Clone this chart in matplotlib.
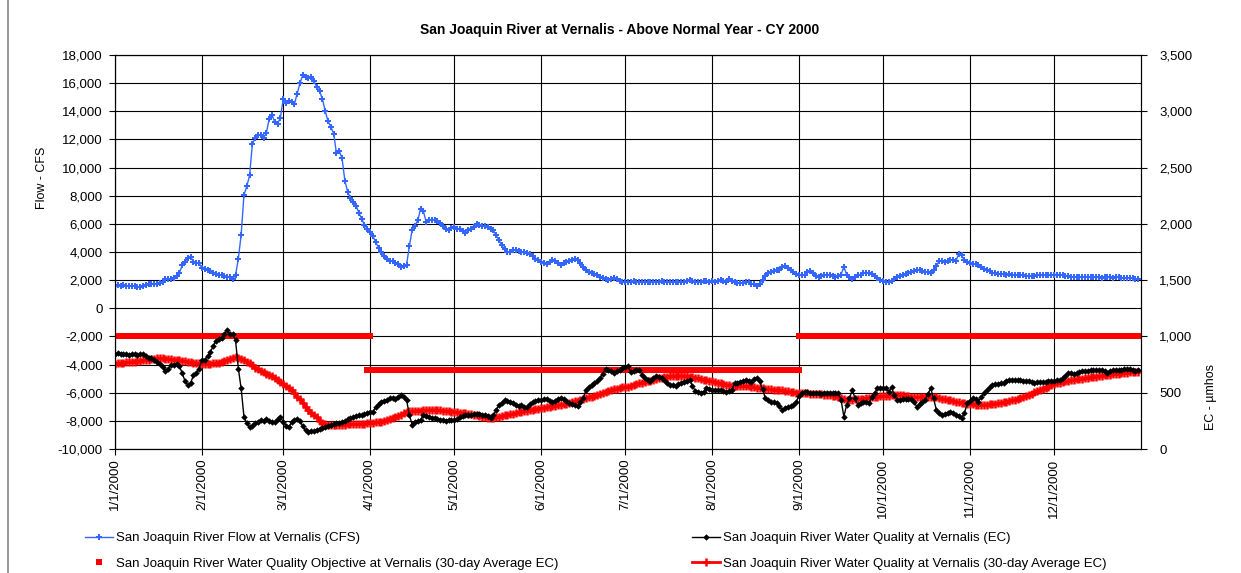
import numpy as np
import pandas as pd
import matplotlib
matplotlib.use("Agg")
import matplotlib.pyplot as plt
import matplotlib.dates as mdates
from matplotlib.ticker import FuncFormatter, MultipleLocator
from matplotlib.lines import Line2D

plt.rcParams['font.family'] = ['Liberation Sans', 'DejaVu Sans']

title = "San Joaquin River at Vernalis - Above Normal Year - CY 2000"
left_label = "Flow - CFS"
right_label = "EC - \u00b5mhos"
labels = ["San Joaquin River Flow at Vernalis (CFS)",
          "San Joaquin River Water Quality at Vernalis (EC)",
          "San Joaquin River Water Quality Objective at Vernalis (30-day Average EC)",
          "San Joaquin River Water Quality at Vernalis (30-day Average EC)"]

# ---------------- daily flow (CFS) ----------------
flow_jan = [1600,1620,1610,1630,1600,1600,1580,1550,1500,1520,1580,1650,1700,1720,1740,1760,1800,1900,2050,2100,2100,2120,2280,2540,3060,3300,3600,3650,3300,3200,3200]
flow_feb = [2870,2780,2700,2620,2540,2470,2400,2350,2300,2250,2190,2100,2350,3530,5220,8050,8660,9440,11650,12120,12350,12300,12120,12470,13460,13760,13220,13130,13530]
flow_mar = [14870,14590,14700,14630,14520,15250,16000,16590,16470,16400,16470,16120,15720,15410,14870,14000,13290,12890,12420,11010,11180,10660,9060,8280,7840,7530,7290,6780,6350,5930,5650]
flow_apr = [5410,5130,4700,4310,4000,3720,3530,3340,3340,3220,3130,2940,3010,3100,4400,5580,5880,6240,7060,6900,6160,6240,6280,6280,6190,6050,5880,5650,5530,5720]
flow_may = [5760,5600,5650,5480,5340,5530,5650,5810,6000,5950,5880,5880,5760,5650,5530,5180,4820,4470,4190,3980,3980,4160,4120,4050,3980,4020,3930,3840,3690,3530,3410]
flow_jun = [3290,3220,3180,3290,3410,3340,3250,3110,3220,3290,3360,3460,3530,3410,3220,2940,2710,2590,2540,2470,2400,2240,2120,2050,2000,2070,2120,2050,1950,1880]
flow_jul = [1880,1850,1900,1920,1870,1850,1870,1900,1880,1860,1850,1870,1900,1910,1880,1860,1850,1880,1900,1870,1850,1880,1920,2000,1950,1880,1860,1900,1950,1920,1900]
flow_aug = [1920,1900,1950,1980,1960,1900,2050,1950,1850,1800,1780,1800,1850,1900,1750,1700,1600,1750,2000,2300,2540,2600,2640,2700,2750,2900,3000,2850,2710,2550,2470]
flow_sep = [2350,2400,2350,2590,2640,2500,2300,2240,2300,2350,2350,2350,2300,2240,2300,2400,2940,2400,2200,2050,2200,2350,2400,2500,2540,2500,2450,2300,2150,2000]
flow_oct = [1950,1880,1900,1950,2100,2240,2300,2400,2470,2500,2600,2650,2710,2700,2650,2600,2550,2520,2700,2990,3360,3350,3290,3350,3460,3400,3360,3880,3760,3410,3300]
flow_nov = [3220,3180,3130,3050,2940,2820,2710,2620,2540,2500,2460,2440,2420,2400,2410,2400,2380,2360,2340,2350,2320,2300,2300,2320,2350,2340,2330,2350,2370,2380]
flow_dec = [2400,2400,2400,2350,2300,2280,2250,2240,2230,2220,2220,2210,2200,2200,2190,2190,2200,2180,2190,2200,2190,2180,2190,2190,2170,2160,2150,2140,2120,2100,2070]

# ---------------- daily EC (umhos) ----------------
ec_jan = [845,850,847,840,842,838,840,843,838,845,847,823,812,812,794,774,759,730,694,715,744,744,759,735,671,603,568,588,656,671,715]
ec_feb = [788,794,823,862,912,959,979,988,1024,1053,1024,1024,965,715,538,288,230,194,206,230,244,259,253,265,253,244,238,265,280]
ec_mar = [244,206,194,238,259,265,253,200,165,147,156,162,171,180,190,195,200,210,220,228,232,236,250,265,275,285,295,303,305,312,318]
ec_apr = [325,332,371,400,421,430,436,450,456,441,460,477,459,436,303,215,244,250,259,303,290,283,278,272,268,262,258,253,255,257]
ec_may = [259,270,288,292,298,303,305,310,312,308,305,303,290,274,300,347,390,412,436,430,421,405,391,380,390,371,371,400,421,430,433]
ec_jun = [436,440,444,430,415,430,445,450,440,425,412,400,390,383,420,450,524,550,570,582,605,632,670,715,700,690,677,690,706,720]
ec_jul = [725,738,685,695,705,700,660,627,615,606,630,647,640,635,610,582,570,565,562,575,590,597,605,612,560,515,505,500,510,538,530]
ec_aug = [524,524,520,524,515,509,515,524,582,590,591,600,612,605,597,620,635,600,530,450,435,421,415,406,380,347,360,371,380,391,421]
ec_sep = [470,494,505,509,500,495,494,494,490,495,494,494,498,500,500,436,288,391,450,524,450,391,410,421,415,406,465,500,538,540]
ec_oct = [540,538,509,547,480,436,438,440,440,442,441,420,377,400,420,436,490,538,450,347,320,303,310,320,332,320,303,295,274,318,406]
ec_nov = [430,450,440,421,460,494,525,553,565,577,580,585,588,600,612,612,612,612,610,608,605,603,595,588,592,595,597,597,600,603]
ec_dec = [606,610,615,627,650,671,671,668,671,680,694,690,695,698,700,702,704,706,690,677,690,700,700,700,702,708,712,715,700,694,706]

# ---------------- daily 30-day average EC ----------------
avg_jan = [759,761,764,767,770,772,774,777,780,783,788,791,795,799,803,805,806,805,803,800,796,794,792,790,786,780,775,770,766,763,760]
avg_feb = [759,758,757,758,760,763,768,774,782,790,798,805,815,810,800,790,774,760,742,721,708,695,680,670,660,645,630,615,597]
avg_mar = [580,560,540,520,495,465,440,410,377,350,318,300,280,250,230,222,215,213,212,213,214,215,216,218,219,220,221,221,223,226,228]
avg_apr = [230,233,237,240,244,250,258,265,275,285,295,303,318,332,335,337,339,341,341,343,345,346,347,347,345,343,341,338,336,333]
avg_may = [330,327,324,320,316,312,308,303,298,292,286,280,274,272,276,280,286,292,298,303,308,313,318,325,332,336,341,346,350,355,358]
avg_jun = [362,366,371,375,380,384,388,391,397,403,410,417,424,430,436,443,451,458,466,473,480,488,496,505,515,524,530,537,543,548]
avg_jul = [551,553,560,567,575,582,590,598,602,606,613,620,627,634,641,644,647,649,650,651,650,648,645,641,637,632,627,622,617,612,606]
avg_aug = [600,594,588,582,576,570,567,564,562,560,559,558,559,558,555,550,545,541,538,535,532,530,528,526,524,520,516,512,508,504,501]
avg_sep = [500,498,496,494,492,490,489,488,486,484,481,478,475,471,465,455,445,436,437,438,440,441,444,448,452,456,460,463,465,467]
avg_oct = [470,472,475,478,480,480,479,476,472,468,463,460,459,461,463,465,465,464,462,458,452,447,442,438,432,426,420,414,410,406,403]
avg_nov = [400,396,392,391,390,392,395,398,401,404,406,410,415,420,425,431,436,441,450,460,470,480,492,505,515,525,535,545,555,565]
avg_dec = [575,582,588,594,600,606,612,615,618,622,626,630,634,638,641,644,647,650,653,656,660,663,665,668,671,674,677,680,683,685,688]

# objective periods (start, end, EC objective)
obj_periods = [("2000-01-01", "2000-04-01", 1000),
               ("2000-03-31", "2000-09-01", 700),
               ("2000-09-01", "2000-12-31", 1000)]

flow = flow_jan + flow_feb + flow_mar + flow_apr + flow_may + flow_jun + flow_jul + flow_aug + flow_sep + flow_oct + flow_nov + flow_dec
ec = ec_jan + ec_feb + ec_mar + ec_apr + ec_may + ec_jun + ec_jul + ec_aug + ec_sep + ec_oct + ec_nov + ec_dec
ec_avg = avg_jan + avg_feb + avg_mar + avg_apr + avg_may + avg_jun + avg_jul + avg_aug + avg_sep + avg_oct + avg_nov + avg_dec
dates = pd.date_range("2000-01-01", periods=len(flow), freq="D")

obj_x, obj_y = [], []
for s, e, v in obj_periods:
    dd = pd.date_range(s, e, freq="D")
    obj_x.extend(dd)
    obj_y.extend([v] * len(dd))

W, H = 1241, 573
fig = plt.figure(figsize=(W / 100, H / 100), dpi=100)
ax = fig.add_axes([115 / W, 1 - 449 / H, 1026 / W, 394 / H])
ax2 = ax.twinx()

blue = "#3366FF"
red = "#FF0000"

h_flow, = ax.plot(dates, flow, color=blue, lw=1.0, marker="P", ms=4.6, mew=0, zorder=3)
h_obj, = ax2.plot(obj_x, obj_y, color=red, lw=0, marker="s", ms=4.4, mew=0, linestyle="none")
h_avg, = ax2.plot(dates, ec_avg, color=red, lw=2.0, marker="+", ms=6, mew=1.8)
h_ec, = ax2.plot(dates, ec, color="black", lw=1.0, marker="D", ms=3.3, mew=0)

ax.set_ylim(-10000, 18000)
ax.yaxis.set_major_locator(MultipleLocator(2000))
ax.yaxis.set_major_formatter(FuncFormatter(lambda v, p: f"{int(round(v)):,}"))
ax2.set_ylim(0, 3500)
ax2.yaxis.set_major_locator(MultipleLocator(500))
ax2.yaxis.set_major_formatter(FuncFormatter(lambda v, p: f"{int(round(v)):,}"))

ax.set_xlim(pd.Timestamp("2000-01-01"), pd.Timestamp("2001-01-01"))
ax.xaxis.set_major_locator(mdates.MonthLocator())
def dfmt(x, p):
    d = mdates.num2date(x)
    return f"{d.month}/{d.day}/{d.year}"
ax.xaxis.set_major_formatter(FuncFormatter(dfmt))
ticks = ax.get_xticks()
ax.set_xticks(ticks[:-1] if len(ticks) > 12 else ticks)
for lab in ax.get_xticklabels():
    lab.set_rotation(90)

ax.grid(True, color="black", lw=0.8)
ax.set_axisbelow(True)
for a in (ax, ax2):
    a.tick_params(direction="out", length=4, width=0.8, labelsize=9.5, colors="black")
    for sp in a.spines.values():
        sp.set_color("black")
        sp.set_linewidth(0.8)
ax.tick_params(axis="x", pad=3)
ax.tick_params(axis="y", pad=5)
ax2.tick_params(axis="y", pad=9)

fig.text(620 / W, 1 - 30 / H, title, ha="center", va="center", fontsize=10, fontweight="bold")
fig.text(42 / W, 1 - 178 / H, left_label, ha="center", va="center", rotation=90, fontsize=9)
fig.text(1211 / W, 1 - 397 / H, right_label, ha="center", va="center", rotation=90, fontsize=9)

# left border of chart area
fig.add_artist(Line2D([8 / W, 8 / W], [0, 1], transform=fig.transFigure, color="#888888", lw=1.2))

legfont = {"family": ["Liberation Sans", "DejaVu Sans"], "size": 9.5}
lkw = dict(loc="upper left", frameon=False, borderpad=0, borderaxespad=0,
           handlelength=2.1, handletextpad=0.25, labelspacing=1.0, prop=legfont)
fig.legend([h_flow, h_obj], [labels[0], labels[2]], bbox_to_anchor=(85 / W, 1 - 532 / H), **lkw)
fig.legend([h_ec, h_avg], [labels[1], labels[3]], bbox_to_anchor=(692 / W, 1 - 532 / H), **lkw)

fig.savefig("out.png", dpi=100)
